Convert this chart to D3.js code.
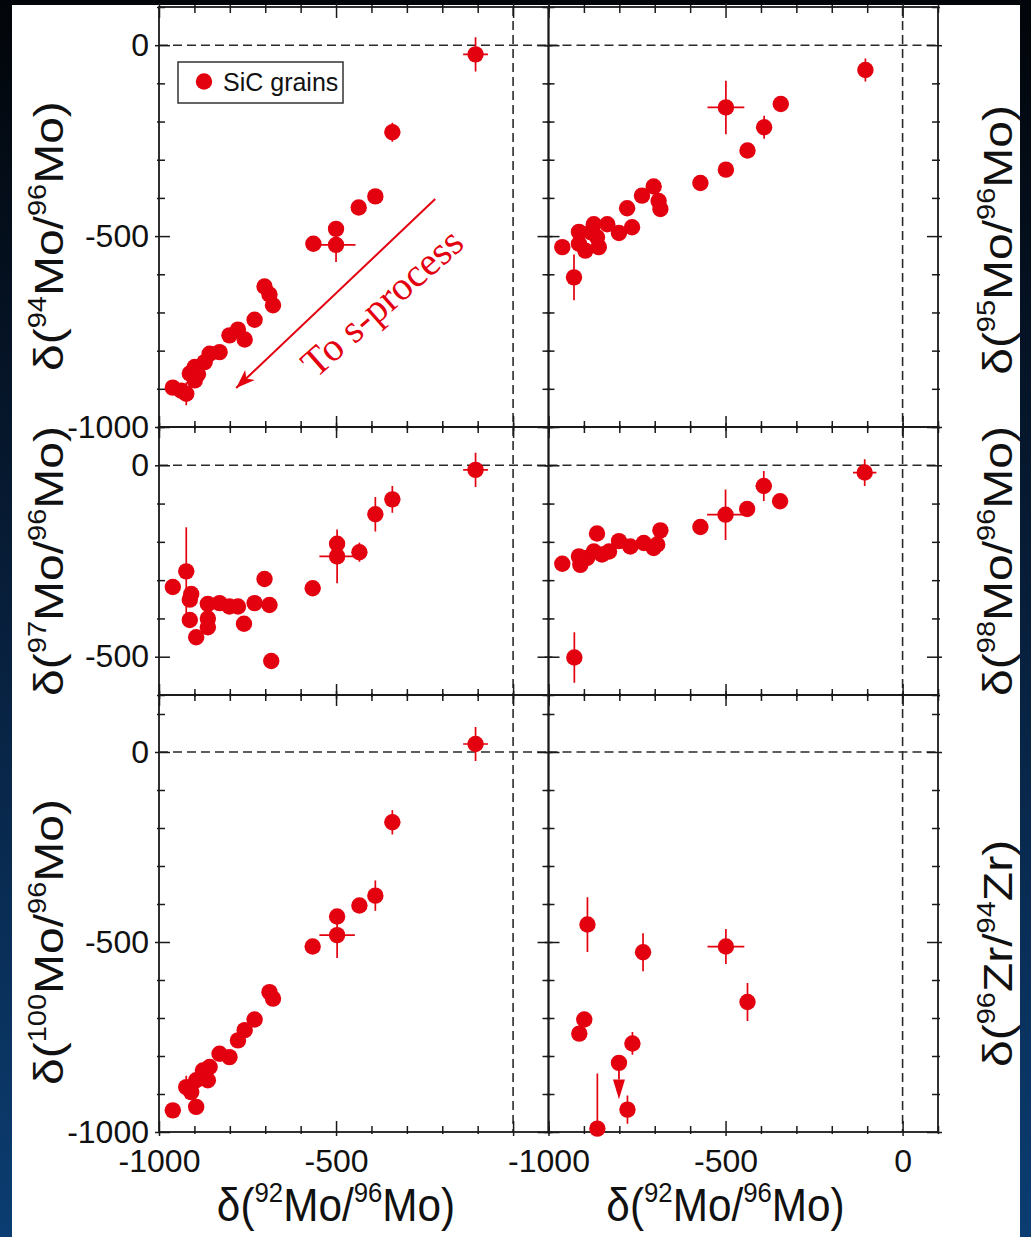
<!DOCTYPE html>
<html>
<head>
<meta charset="utf-8">
<title>Mo isotopes in presolar SiC grains</title>
<style>
  body { margin: 0; background: #061a33; }
  svg { display: block; }
</style>
<script src="https://d3js.org/d3.v7.min.js"></script>
</head>
<body>
<svg width="1031" height="1237"></svg>
<script>
// each point: [d92Mo/96Mo, d, x error, y error]
var mo94 = [
  [-106, -24, 35, 45], [-341, -228, 0, 25], [-389, -396, 0, 15], [-436, -425, 0, 0],
  [-500, -481, 0, 0], [-500, -523, 55, 45], [-564, -520, 0, 0], [-702, -632, 0, 0],
  [-688, -653, 0, 0], [-678, -681, 0, 0], [-730, -719, 0, 0], [-777, -745, 0, 0],
  [-801, -760, 0, 0], [-758, -771, 0, 0], [-829, -804, 0, 0], [-857, -808, 0, 0],
  [-871, -830, 0, 0], [-899, -843, 0, 0], [-913, -860, 0, 0], [-890, -862, 0, 0],
  [-899, -878, 0, 0], [-961, -897, 0, 0], [-937, -905, 0, 0], [-923, -913, 0, 30]
];
var mo95 = [
  [-105, -65, 19, 30], [-499, -163, 52, 70], [-344, -154, 0, 0], [-391, -215, 0, 30],
  [-438, -276, 0, 0], [-499, -326, 0, 0], [-571, -361, 0, 0], [-703, -370, 0, 0],
  [-736, -394, 0, 0], [-689, -408, 0, 0], [-684, -429, 0, 0], [-778, -427, 0, 0],
  [-764, -477, 0, 0], [-801, -492, 0, 0], [-834, -469, 0, 0], [-872, -469, 0, 0],
  [-914, -489, 0, 0], [-881, -490, 0, 0], [-863, -503, 0, 0], [-858, -529, 0, 0],
  [-896, -538, 0, 0], [-914, -520, 0, 0], [-961, -529, 0, 0], [-928, -608, 0, 60]
];
var mo97 = [
  [-106, -12, 35, 45], [-341, -89, 0, 35], [-389, -128, 0, 45], [-434, -227, 0, 25],
  [-497, -205, 0, 0], [-497, -238, 50, 70], [-566, -321, 0, 0], [-702, -297, 0, 0],
  [-688, -365, 0, 0], [-683, -511, 0, 0], [-730, -360, 0, 0], [-760, -414, 0, 0],
  [-777, -369, 0, 0], [-801, -369, 0, 0], [-829, -360, 0, 0], [-862, -362, 0, 0],
  [-909, -336, 0, 0], [-913, -351, 0, 0], [-913, -404, 0, 0], [-862, -400, 0, 0],
  [-862, -423, 0, 0], [-895, -449, 0, 0], [-923, -277, 0, 115], [-961, -318, 0, 0]
];
var mo98 = [
  [-107, -19, 33, 35], [-392, -54, 23, 39], [-346, -94, 0, 0], [-439, -114, 0, 0],
  [-500, -129, 52, 66], [-571, -161, 0, 0], [-684, -170, 0, 0], [-693, -207, 0, 0],
  [-703, -216, 0, 0], [-731, -203, 0, 0], [-769, -212, 0, 0], [-801, -198, 0, 0],
  [-829, -225, 0, 0], [-863, -178, 0, 0], [-872, -225, 0, 0], [-849, -233, 0, 0],
  [-891, -242, 0, 0], [-914, -238, 0, 0], [-910, -260, 0, 0], [-961, -257, 0, 0],
  [-927, -502, 0, 66]
];
var mo100 = [
  [-106, 21, 35, 45], [-341, -185, 0, 32], [-389, -378, 0, 40], [-434, -404, 0, 0],
  [-497, -433, 0, 0], [-497, -482, 50, 60], [-566, -512, 0, 0], [-688, -632, 0, 0],
  [-678, -649, 0, 0], [-730, -704, 0, 0], [-758, -732, 0, 0], [-777, -759, 0, 0],
  [-801, -803, 0, 0], [-829, -794, 0, 0], [-857, -829, 0, 0], [-876, -838, 0, 0],
  [-862, -864, 0, 0], [-895, -864, 0, 0], [-923, -882, 0, 30], [-909, -895, 0, 0],
  [-895, -934, 0, 0], [-961, -943, 0, 0]
];
var zr96 = [
  [-890, -454, 0, 72], [-733, -527, 0, 50], [-499, -512, 52, 46], [-438, -658, 0, 50],
  [-899, -704, 0, 0], [-913, -741, 0, 0], [-763, -767, 0, 30], [-801, -818, 0, 0],
  [-777, -941, 0, 37], [-862, -991, 0, 145]
];
// upper limit: [x, y of point, top of arrow head, tip of arrow head]
var zrLimit = [[-801, -818, -862, -914]];
// "To s-process" arrow: tail, tip (data units of the 94Mo panel)
var sArrow = [[-220, -403], [-782, -898]];
var sLabel = [-345, -700];

var yTicks1 = [0, -500, -1000], yTicks2 = [0, -500], yTicks3 = [0, -500, -1000];
var xTicksL = [-1000, -500], xTicksR = [-1000, -500, 0];

var red = "#e3000f", ink = "#1a1a1a";
var svg = d3.select("svg");
var defs = svg.append("defs");

var grad = defs.append("linearGradient").attr("id", "bg")
    .attr("x1", 0).attr("y1", 0).attr("x2", 0).attr("y2", 1);
grad.append("stop").attr("offset", "0%").attr("stop-color", "#020509");
grad.append("stop").attr("offset", "45%").attr("stop-color", "#071c36");
grad.append("stop").attr("offset", "100%").attr("stop-color", "#0b3d72");
svg.append("rect").attr("width", 1031).attr("height", 1237).attr("fill", "url(#bg)");
svg.append("rect").attr("x", 12).attr("y", 5).attr("width", 1008).attr("height", 1232).attr("fill", "#fff");

var head = defs.append("marker").attr("id", "head")
    .attr("markerUnits", "userSpaceOnUse").attr("viewBox", "-20 -8 22 16")
    .attr("markerWidth", 22).attr("markerHeight", 16)
    .attr("refX", 0).attr("refY", 0).attr("orient", "auto");
head.append("path").attr("d", "M0,0 L-19,-7 L-14,0 L-19,7 Z").attr("fill", red);

var xL = d3.scaleLinear().domain([-1000, 100]).range([159, 548.5]),
    xR = d3.scaleLinear().domain([-1000, 100]).range([548.5, 938]),
    y1 = d3.scaleLinear().domain([-1000, 100]).range([427, 7]),
    y2 = d3.scaleLinear().domain([-600, 100]).range([695, 427]),
    y3 = d3.scaleLinear().domain([-1000, 150]).range([1132, 695]);

var panels = [
  {x: xL, y: y1, data: mo94},
  {x: xR, y: y1, data: mo95},
  {x: xL, y: y2, data: mo97},
  {x: xR, y: y2, data: mo98},
  {x: xL, y: y3, data: mo100},
  {x: xR, y: y3, data: zr96}
];

function steps(domain, step) {
  return d3.range(Math.ceil(domain[0] / step) * step, domain[1] + 1, step);
}

panels.forEach(function(p, i) {
  var x = p.x, y = p.y;
  var x0 = x.range()[0], x1 = x.range()[1], yb = y.range()[0], yt = y.range()[1];
  var g = svg.append("g");

  defs.append("clipPath").attr("id", "clip" + i)
    .append("rect").attr("x", x0).attr("y", yt).attr("width", x1 - x0).attr("height", yb - yt);

  // dashed zero lines
  g.append("line").attr("x1", x0).attr("x2", x1).attr("y1", y(0)).attr("y2", y(0));
  g.append("line").attr("x1", x(0)).attr("x2", x(0)).attr("y1", yt).attr("y2", yb);
  g.selectAll("line").attr("stroke", "#2a2a2a").attr("stroke-width", 1.6).attr("stroke-dasharray", "9,5");

  // ticks: minor every 100, major every 500, pointing into the panel
  var xs = steps(x.domain(), 100), ys = steps(y.domain(), 100);
  var sets = [
    [xs.filter(function(v) { return v % 500 != 0; }), ys.filter(function(v) { return v % 500 != 0; }), 6, 2],
    [xs.filter(function(v) { return v % 500 == 0; }), ys.filter(function(v) { return v % 500 == 0; }), 11, 4]
  ];
  sets.forEach(function(s) {
    [[d3.axisBottom, x, s[0], "translate(0," + yb + ")"],
     [d3.axisTop, x, s[0], "translate(0," + yt + ")"],
     [d3.axisLeft, y, s[1], "translate(" + x0 + ",0)"],
     [d3.axisRight, y, s[1], "translate(" + x1 + ",0)"]].forEach(function(a) {
      [-s[2], s[3]].forEach(function(len) {
        g.append("g").attr("transform", a[3])
          .call(a[0](a[1]).tickValues(a[2]).tickSizeInner(len).tickSizeOuter(0).tickFormat(""))
          .call(function(ax) {
            ax.select(".domain").remove();
            ax.selectAll("line").attr("stroke", ink).attr("stroke-width", 1.5);
          });
      });
    });
  });

  g.append("rect").attr("x", x0).attr("y", yt).attr("width", x1 - x0).attr("height", yb - yt)
    .attr("fill", "none").attr("stroke", ink).attr("stroke-width", 1.8);

  // error bars
  var eb = g.append("g").attr("clip-path", "url(#clip" + i + ")")
    .attr("stroke", red).attr("stroke-width", 1.7);
  eb.selectAll(".ex").data(p.data.filter(function(d) { return d[2] > 0; })).enter().append("line")
    .attr("x1", function(d) { return x(d[0] - d[2]); }).attr("x2", function(d) { return x(d[0] + d[2]); })
    .attr("y1", function(d) { return y(d[1]); }).attr("y2", function(d) { return y(d[1]); });
  eb.selectAll(".ey").data(p.data.filter(function(d) { return d[3] > 0; })).enter().append("line")
    .attr("x1", function(d) { return x(d[0]); }).attr("x2", function(d) { return x(d[0]); })
    .attr("y1", function(d) { return y(d[1] - d[3]); }).attr("y2", function(d) { return y(d[1] + d[3]); });

  g.selectAll("circle").data(p.data).enter().append("circle")
    .attr("cx", function(d) { return x(d[0]); })
    .attr("cy", function(d) { return y(d[1]); })
    .attr("r", 8.2).attr("fill", red);
});

// upper limit arrow in the Zr panel
var gl = svg.append("g");
zrLimit.forEach(function(d) {
  gl.append("line").attr("x1", xR(d[0])).attr("x2", xR(d[0]))
    .attr("y1", y3(d[1])).attr("y2", y3(d[2])).attr("stroke", red).attr("stroke-width", 1.8);
  gl.append("path").attr("fill", red)
    .attr("d", "M" + (xR(d[0]) - 6) + "," + y3(d[2]) + "L" + (xR(d[0]) + 6) + "," + y3(d[2]) +
               "L" + xR(d[0]) + "," + y3(d[3]) + "Z");
});

// tick labels
function labels(axis, transform) {
  svg.append("g").attr("transform", transform).call(axis)
    .call(function(ax) {
      ax.select(".domain").remove();
      ax.selectAll("text").attr("font-family", "Liberation Sans, Arial, sans-serif")
        .attr("font-size", 32).attr("fill", "#111");
    });
}
var fmt = function(d) { return String(d); };
[[y1, yTicks1], [y2, yTicks2], [y3, yTicks3]].forEach(function(r) {
  labels(d3.axisLeft(r[0]).tickValues(r[1]).tickSize(0).tickPadding(10).tickFormat(fmt),
         "translate(" + xL.range()[0] + ",0)");
});
labels(d3.axisBottom(xL).tickValues(xTicksL).tickSize(0).tickPadding(17).tickFormat(fmt),
       "translate(0," + y3.range()[0] + ")");
labels(d3.axisBottom(xR).tickValues(xTicksR).tickSize(0).tickPadding(17).tickFormat(fmt),
       "translate(0," + y3.range()[0] + ")");

// axis titles like  δ(92Mo/96Mo)
function isoTitle(a, b, el, x, y, rotate, size) {
  var t = svg.append("text")
    .attr("transform", "translate(" + x + "," + y + ")" + (rotate ? " scale(0.86,1) rotate(-90)" : " scale(0.92,1)"))
    .attr("text-anchor", "middle")
    .attr("font-family", "Liberation Sans, Arial, sans-serif")
    .attr("font-size", size).attr("fill", "#111");
  var sup = Math.round(size * 0.6), lift = Math.round(size * 0.42);
  var parts = [["δ(", 0], [a, 1], [el + "/", 0], [b, 1], [el + ")", 0]];
  parts.forEach(function(q, k) {
    var s = t.append("tspan").text(q[0]);
    if (q[1]) s.attr("font-size", sup).attr("dy", -lift);
    else if (k > 0) s.attr("dy", lift);
  });
}
isoTitle("92", "96", "Mo", xL(-500), 1221, false, 46);
isoTitle("92", "96", "Mo", xR(-500), 1221, false, 46);
isoTitle("94", "96", "Mo", 63, y1(-500), true, 48);
isoTitle("97", "96", "Mo", 63, y2(-250), true, 48);
isoTitle("100", "96", "Mo", 63, y3(-500), true, 48);
isoTitle("95", "96", "Mo", 1012, y1(-510), true, 48);
isoTitle("98", "96", "Mo", 1012, y2(-250), true, 48);
isoTitle("96", "94", "Zr", 1012, y3(-530), true, 48);

// legend
var lg = svg.append("g").attr("transform", "translate(" + (xL.range()[0] + 19) + "," + (y1.range()[1] + 55) + ")");
lg.append("rect").attr("width", 165).attr("height", 41).attr("fill", "#fff")
  .attr("stroke", "#333").attr("stroke-width", 1.5);
lg.append("circle").attr("cx", 26).attr("cy", 19.5).attr("r", 8.2).attr("fill", red);
lg.append("text").attr("x", 45).attr("y", 28.5).text("SiC grains")
  .attr("font-family", "Liberation Sans, Arial, sans-serif").attr("font-size", 25).attr("fill", "#111");

// "To s-process" arrow
var ax0 = xL(sArrow[0][0]), ay0 = y1(sArrow[0][1]), ax1 = xL(sArrow[1][0]), ay1 = y1(sArrow[1][1]);
svg.append("line").attr("x1", ax0).attr("y1", ay0).attr("x2", ax1).attr("y2", ay1)
  .attr("stroke", red).attr("stroke-width", 2).attr("marker-end", "url(#head)");
var ang = Math.atan2(ay0 - ay1, ax0 - ax1) * 180 / Math.PI;
svg.append("text")
  .attr("transform", "translate(" + xL(sLabel[0]) + "," + y1(sLabel[1]) + ") rotate(" + (ang + 2) + ")")
  .attr("text-anchor", "middle")
  .attr("font-family", "Liberation Serif, Times New Roman, serif")
  .attr("font-size", 40).attr("fill", red)
  .text("To s-process");
</script>
</body>
</html>
